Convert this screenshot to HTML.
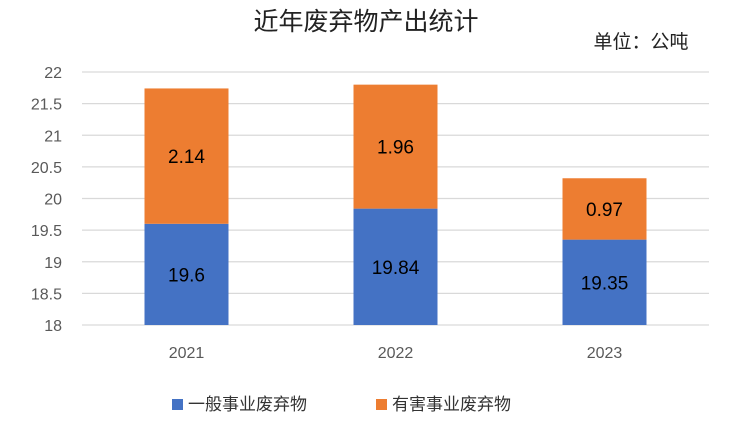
<!DOCTYPE html>
<html><head><meta charset="utf-8"><style>
body{margin:0;background:#fff;}
svg{display:block;font-family:"Liberation Sans","Noto Sans CJK SC",sans-serif;}
</style></head><body>
<svg id="c" width="732" height="428">
<text x="366" y="30" text-anchor="middle" font-size="25" fill="#222">近年废弃物产出统计</text>
<text x="641" y="48" text-anchor="middle" font-size="19" fill="#222">单位：公吨</text>
<g id="grid"></g><g id="bars"></g><g id="labels"></g>
<g>
<rect x="172" y="399" width="11" height="11" fill="#4472C4"/>
<text x="188" y="410" font-size="17" fill="#333">一般事业废弃物</text>
<rect x="376" y="399" width="11" height="11" fill="#ED7D31"/>
<text x="392" y="410" font-size="17" fill="#333">有害事业废弃物</text>
</g>
</svg>
<script>
const categories=["2021","2022","2023"];
const general=[19.6,19.84,19.35];
const hazardous=[2.14,1.96,0.97];
const ticks=[18,18.5,19,19.5,20,20.5,21,21.5,22];
const NS="http://www.w3.org/2000/svg";
const x0=82,x1=709,yMin=18,yMax=22,yTop=72,yBot=325;
const y=v=>yBot-(v-yMin)/(yMax-yMin)*(yBot-yTop);
const bw=(x1-x0)/categories.length;
const cx=i=>x0+bw*(i+0.5);
function mk(t,a,p){const e=document.createElementNS(NS,t);for(const k in a)e.setAttribute(k,a[k]);p.appendChild(e);return e;}
const g=document.getElementById('grid'),b=document.getElementById('bars'),l=document.getElementById('labels');
ticks.forEach(t=>{
 const ln=mk('line',{x1:x0,x2:x1,y1:y(t),y2:y(t),stroke:'#d9d9d9','stroke-width':1.3},g);
 
 
 const tx=mk('text',{x:62,y:y(t)+6,'text-anchor':'end','font-size':16,fill:'#595959'},g);
 tx.textContent=t;
 
 
});
categories.forEach((c,i)=>{
 const w=84,x=cx(i)-w/2,top1=general[i],top2=general[i]+hazardous[i];
 const r1=mk('rect',{x:x,y:y(top1),width:w,height:y(yMin)-y(top1),fill:'#4472C4'},b);
 
 
 const r2=mk('rect',{x:x,y:y(top2),width:w,height:y(top1)-y(top2),fill:'#ED7D31'},b);
 
 
 const t1=mk('text',{x:cx(i),y:(y(top1)+y(yMin))/2+7,'text-anchor':'middle','font-size':19,fill:'#000'},l);
 t1.textContent=general[i];
 
 
 const t2=mk('text',{x:cx(i),y:(y(top2)+y(top1))/2+7,'text-anchor':'middle','font-size':19,fill:'#000'},l);
 t2.textContent=hazardous[i];
 
 
 const xl=mk('text',{x:cx(i),y:358,'text-anchor':'middle','font-size':16,fill:'#595959'},l);
 xl.textContent=c;
 
 
});
</script>
</body></html>
